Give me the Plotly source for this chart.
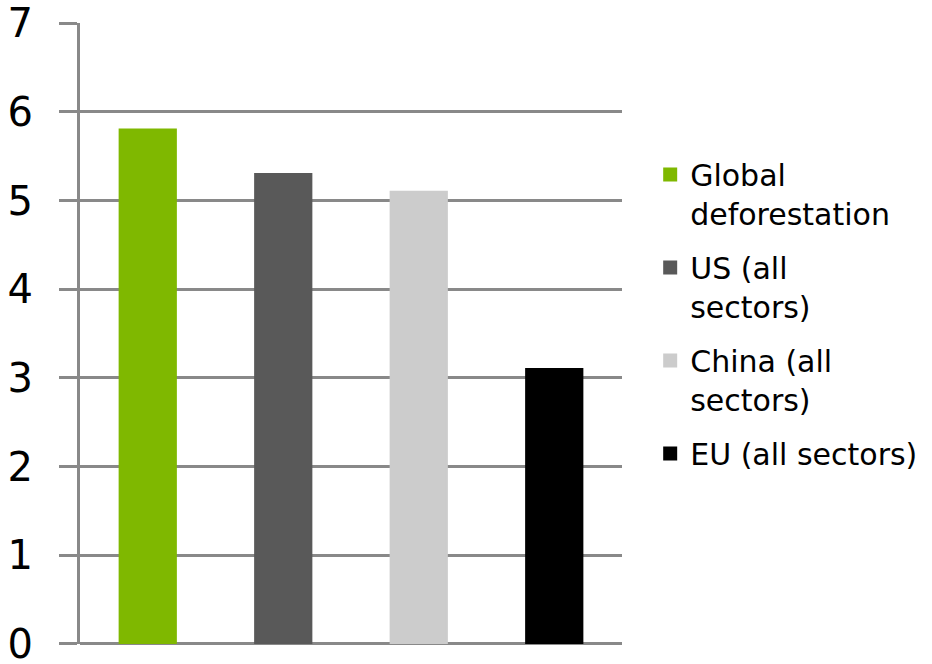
import plotly.graph_objects as go

categories = ["Global<br>deforestation", "US (all<br>sectors)", "China (all<br>sectors)", "EU (all sectors)"]
values = [5.8, 5.3, 5.1, 3.1]
colors = ["#7FB800", "#595959", "#CCCCCC", "#000000"]
y_ticks = [0, 1, 2, 3, 4, 5, 6, 7]

GRID = "#898989"

fig = go.Figure()
for i, (cat, val, col) in enumerate(zip(categories, values, colors)):
    fig.add_trace(go.Bar(
        x=[i], y=[val], name=cat, width=0.415,
        marker=dict(color=col, line=dict(width=2, color=col)),
        legendgroup=f"g{i}",
    ))

fig.update_layout(
    width=932, height=664,
    margin=dict(l=80, r=310, t=23, b=20, autoexpand=False),
    plot_bgcolor="white", paper_bgcolor="white",
    barmode="overlay",
    showlegend=True,
    font=dict(family="DejaVu Sans", color="black"),
    legend=dict(
        x=1.052, xanchor="left", y=0.798, yanchor="top",
        font=dict(size=30, color="black", family="DejaVu Sans"),
        valign="top", tracegroupgap=12,
        bgcolor="rgba(0,0,0,0)",
    ),
    xaxis=dict(
        range=[-0.5, 3.5], showticklabels=False, ticks="",
        showgrid=False, zeroline=False, showline=False, fixedrange=True,
    ),
    yaxis=dict(
        range=[-0.002, 7.002], tickvals=y_ticks, ticktext=[str(t) for t in y_ticks],
        showgrid=True, gridcolor=GRID, gridwidth=3,
        zeroline=True, zerolinecolor=GRID, zerolinewidth=3,
        showline=True, linecolor=GRID, linewidth=3,
        ticks="outside", ticklen=18, tickwidth=3, tickcolor=GRID,
        tickfont=dict(size=40, color="black", family="DejaVu Sans"),
        ticklabelstandoff=18, ticklabeloverflow="allow", automargin=False,
    ),
)

fig.write_html(
    "out.html",
    config={"displayModeBar": False},
    post_script="document.body.style.margin='0';document.body.style.overflow='hidden';",
)
